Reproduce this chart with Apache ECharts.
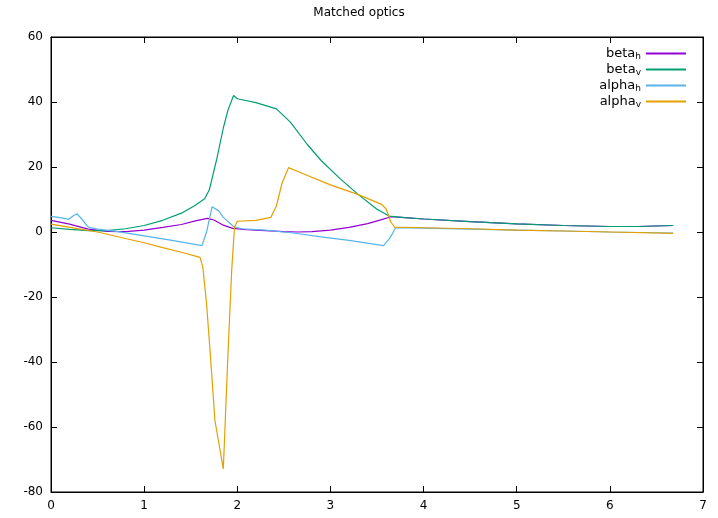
<!DOCTYPE html>
<html lang="en">
<head>
	<meta charset="UTF-8">
	<title>Matched optics</title>
	<script src="https://cdn.jsdelivr.net/npm/echarts@6/dist/echarts.min.js"></script>
	<style>
		html, body { margin: 0; padding: 0; background: #fff; }
		#chart { width: 718px; height: 518px; }
	</style>
</head>
<body>
<div id="chart"></div>
<script>
	// values, [s, value]
	var betaH = [[0,3.6],[0.2,2.4],[0.4,0.9],[0.6,0.2],[0.8,0.1],[1.0,0.6],[1.2,1.4],[1.4,2.3],[1.55,3.4],[1.68,4.2],[1.75,3.7],[1.85,2.1],[1.95,1.1],[2.1,0.7],[2.3,0.4],[2.5,0.1],[2.65,0],[2.8,0.1],[3.0,0.6],[3.2,1.4],[3.4,2.6],[3.55,3.8],[3.65,4.7],[3.8,4.4],[4.0,4.0],[4.5,3.2],[5.0,2.5],[5.5,2.0],[6.0,1.7],[6.3,1.7],[6.68,2.0]];
	var betaV = [[0,1.3],[0.2,0.8],[0.4,0.4],[0.6,0.4],[0.8,1.0],[1.0,2.0],[1.2,3.6],[1.4,5.8],[1.55,8.2],[1.65,10.2],[1.7,13],[1.78,22.5],[1.85,32],[1.9,37.5],[1.96,42],[2.0,41],[2.2,39.8],[2.42,37.9],[2.57,33.8],[2.75,27],[2.9,22],[3.1,16.5],[3.3,11.5],[3.5,7],[3.63,4.9],[3.8,4.4],[4.0,4.0],[4.5,3.2],[5.0,2.5],[5.5,2.0],[6.0,1.7],[6.3,1.7],[6.68,2.0]];
	var alphaH = [[0,4.8],[0.1,4.4],[0.19,3.9],[0.24,5.0],[0.28,5.6],[0.33,4],[0.4,1.5],[0.5,0.9],[0.7,0.2],[1.0,-1.2],[1.3,-2.6],[1.62,-4.2],[1.67,0],[1.73,7.8],[1.8,6.5],[1.85,4.5],[1.96,1.7],[2.05,1.0],[2.3,0.6],[2.6,-0.3],[2.9,-1.5],[3.2,-2.6],[3.57,-4.2],[3.64,-1.8],[3.7,1.3],[4.0,1.2],[4.5,0.9],[5.0,0.6],[5.5,0.3],[6.0,0.0],[6.68,-0.3]];
	var alphaV = [[0,2.4],[0.25,1.2],[0.5,0],[0.8,-2],[1.0,-3.3],[1.2,-4.8],[1.41,-6.3],[1.6,-7.8],[1.63,-10.8],[1.67,-22],[1.71,-37.5],[1.76,-58],[1.85,-72.9],[1.9,-37.5],[1.94,-11.8],[1.97,1.5],[2.0,3.3],[2.2,3.6],[2.36,4.5],[2.42,8],[2.48,15],[2.55,19.8],[2.65,18.6],[3.0,14.5],[3.3,11.5],[3.55,8.5],[3.6,7],[3.65,3],[3.69,1.5],[4.0,1.3],[4.5,1.0],[5.0,0.6],[5.5,0.3],[6.0,0.0],[6.68,-0.4]];

	var seriesNames = ['beta_h', 'beta_v', 'alpha_h', 'alpha_v'];
	var seriesColors = ['#9400d3', '#009e73', '#56b4e9', '#e69f00'];
	var seriesData = [betaH, betaV, alphaH, alphaV];

	var font = 'DejaVu Sans';
	var chart = echarts.init(document.getElementById('chart'), null, {renderer: 'canvas'});

	function axis(pos, show, extra) {
		var a = {
			type: 'value',
			position: pos,
			axisLine: {show: true, onZero: false, lineStyle: {color: '#000', width: 1}},
			axisTick: {show: true, inside: true, length: 6, lineStyle: {color: '#000'}},
			axisLabel: {show: show, color: '#000', fontFamily: font, fontSize: 12, margin: 8},
			splitLine: {show: false}
		};
		for (var k in extra) a[k] = extra[k];
		return a;
	}

	chart.setOption({
		animation: false,
		backgroundColor: '#fff',
		title: {
			text: 'Matched optics',
			left: 'center',
			top: 2,
			textStyle: {fontFamily: font, fontSize: 12, fontWeight: 'normal', color: '#000'}
		},
		legend: {
			orient: 'vertical',
			align: 'right',
			right: 26,
			top: 42,
			itemWidth: 40,
			itemHeight: 12,
			itemGap: 1.5,
			data: seriesNames,
			itemStyle: {opacity: 0},
			formatter: function (name) {
				var p = name.split('_');
				return '{m|' + p[0] + '}{s|' + p[1] + '}';
			},
			textStyle: {
				fontFamily: font,
				color: '#000',
				rich: {
					m: {fontFamily: font, fontSize: 13, lineHeight: 16, color: '#000'},
					s: {fontFamily: font, fontSize: 9, lineHeight: 9, verticalAlign: 'bottom', color: '#000'}
				}
			}
		},
		grid: {left: 51, right: 15, top: 37, bottom: 26, show: true, borderColor: '#000', borderWidth: 1},
		xAxis: [
			axis('bottom', true, {min: 0, max: 7, interval: 1}),
			axis('top', false, {min: 0, max: 7, interval: 1})
		],
		yAxis: [
			axis('left', true, {min: -80, max: 60, interval: 20}),
			axis('right', false, {min: -80, max: 60, interval: 20})
		],
		series: seriesData.map(function (d, i) {
			return {
				name: seriesNames[i],
				type: 'line',
				data: d,
				symbol: 'none',
				smooth: false,
				color: seriesColors[i],
				lineStyle: {width: 1.2, color: seriesColors[i]}
			};
		})
	});
</script>
</body>
</html>
